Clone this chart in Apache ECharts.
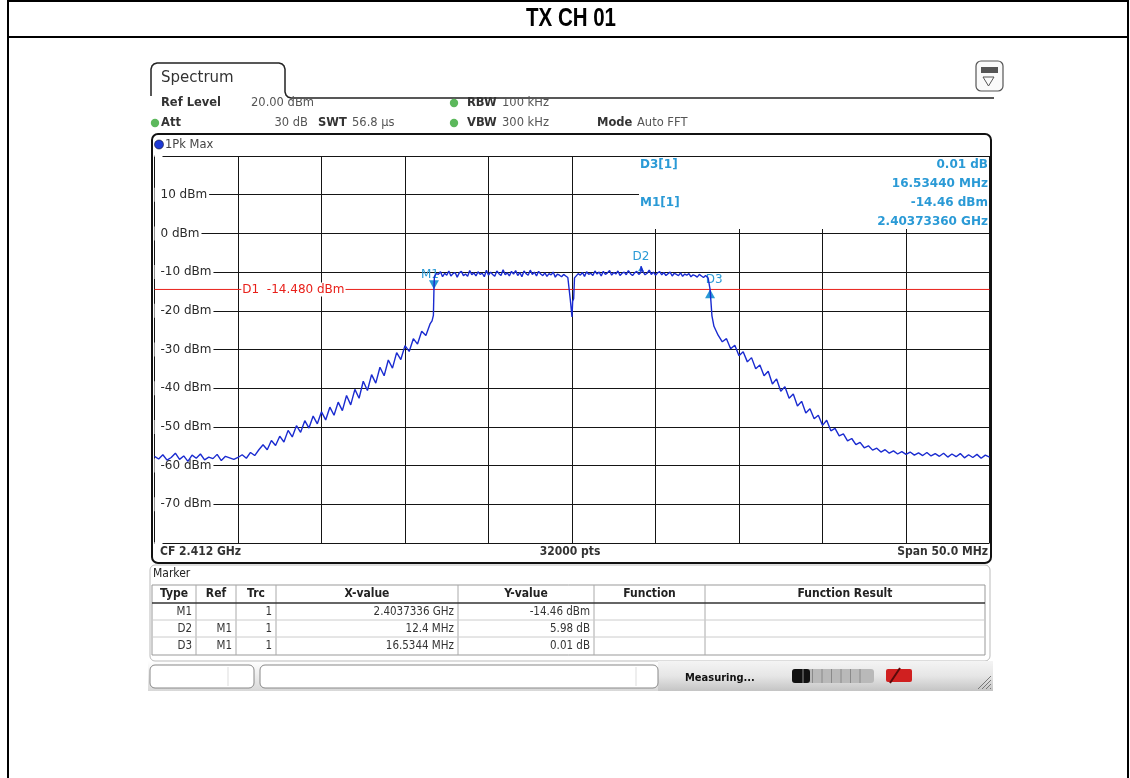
<!DOCTYPE html>
<html>
<head>
<meta charset="utf-8">
<title>TX CH 01</title>
<script src="https://cdn.jsdelivr.net/npm/echarts@6/dist/echarts.min.js"></script>
<style>
  html, body { margin: 0; padding: 0; background: #fff; }
  #main { width: 1130px; height: 778px; }
</style>
</head>
<body>
<div id="main"></div>
<script>
// span 2387 .. 2437 MHz (CF 2412 MHz, span 50 MHz), levels in dBm
var spanStartMHz = 2387, spanStopMHz = 2437;
var skirtStepMHz = 0.25, topStepMHz = 0.125;
var yTicks = { min: -80, max: 20, step: 10 };

// trace; skirts every 0.25 MHz, channel top every 0.125 MHz
var leftSkirtStart = 2387.0;
var leftSkirtDbm = [-57.6, -58.3, -57.2, -58.6, -57.9, -56.8, -58.4, -57.5, -58.9, -57.3,
  -58.1, -57.0, -58.5, -57.8, -58.2, -57.1, -58.7, -57.6, -58.0, -58.4,
  -57.9, -57.2, -58.1, -56.6, -57.4, -55.9, -54.6, -55.9, -53.5, -54.8,
  -52.4, -53.9, -50.9, -52.6, -49.7, -51.4, -48.4, -50.3, -47.2, -49.2,
  -46.1, -48.2, -44.9, -47.0, -43.6, -45.8, -41.9, -44.3, -40.3, -42.6,
  -38.2, -40.6, -36.5, -38.7, -34.6, -36.8, -32.7, -34.8, -30.8, -32.6,
  -29.0, -30.5, -27.2, -28.6, -25.3, -26.4, -23.4];
var leftEdge = [[2403.62, -22.6], [2403.70, -21.2], [2403.7336, -14.46], [2403.76, -11.1], [2403.88, -10.4]];

var flatTopAStart = 2404.0;
var flatTopADbm = [-10.6, -9.9, -11.2, -10.3, -10.8, -9.7, -11.0, -10.4, -10.1, -11.3,
  -10.2, -9.8, -10.9, -10.5, -11.1, -9.6, -10.7, -10.2, -11.0, -9.9,
  -10.6, -10.3, -11.2, -9.5, -10.8, -10.0, -10.6, -11.1, -9.7, -10.4,
  -10.9, -9.4, -10.7, -10.2, -11.0, -9.8, -10.5, -9.6, -10.9, -10.1,
  -11.2, -9.7, -10.4, -10.8, -9.5, -10.6, -10.0, -11.0, -9.8, -10.5,
  -10.9, -10.2, -11.1, -10.4, -10.7, -10.0, -11.3, -10.5, -10.8, -11.2,
  -10.6, -11.0, -11.4];
var centerDip = [[2411.85, -11.3], [2411.90, -17.2], [2411.96, -17.6], [2412.00, -21.6],
  [2412.04, -17.5], [2412.10, -16.9], [2412.15, -11.5]];

var flatTopBStart = 2412.25;
var flatTopBDbm = [-11.0, -10.4, -10.8, -10.1, -11.1, -9.9, -10.6, -10.3, -10.9, -9.7,
  -10.5, -10.0, -11.0, -9.8, -10.6, -10.2, -9.6, -10.8, -10.1, -10.5,
  -9.7, -10.9, -10.3, -10.0, -10.7, -9.6, -10.4, -10.9, -10.2, -9.8,
  -10.6, -10.1, -9.9, -10.7, -10.3, -9.5, -10.6, -10.0, -10.8, -10.2,
  -9.9, -10.7, -10.1, -10.9, -10.4, -10.0, -11.0, -10.3, -10.6, -10.9,
  -10.2, -11.1, -10.5, -10.8, -10.4, -11.2, -10.7, -10.9, -11.3, -10.6,
  -11.0, -11.4, -10.9];
var d2Peak = [[2416.1336, -8.48]];
var rightEdge = [[2420.15, -11.5], [2420.268, -14.45], [2420.30, -16.4], [2420.38, -21.3], [2420.50, -24.0]];

var rightSkirtStart = 2420.75;
var rightSkirtDbm = [-26.3, -28.0, -27.2, -29.8, -28.9, -31.6, -30.6, -33.2, -32.1, -35.0,
  -34.0, -36.8, -35.6, -38.9, -37.6, -40.8, -39.6, -42.6, -41.5, -44.6,
  -43.4, -46.4, -45.3, -47.9, -47.0, -49.6, -48.3, -51.0, -50.4, -52.3,
  -51.8, -53.6, -53.0, -54.6, -54.0, -55.4, -54.9, -56.0, -55.5, -56.5,
  -55.9, -56.8, -56.2, -57.0, -56.4, -57.1, -56.5, -57.3, -56.7, -57.4,
  -56.6, -57.5, -56.9, -57.6, -56.8, -57.8, -57.0, -57.7, -56.9, -58.0,
  -57.2, -57.9, -57.1, -58.1, -57.3, -57.8];

var markerNames = ['M1', 'D2', 'D3'];
var markerFreqMHz = [2403.7336, 2416.1336, 2420.268];
var markerDbm = [-14.46, -8.48, -14.45];
var d1LineDbm = -14.48;
var d1LabelFreqMHz = 2392.2;

var tableHeader = ['Type', 'Ref', 'Trc', 'X-value', 'Y-value', 'Function', 'Function Result'];
var tableRows = [
  ['M1', '', '1', '2.4037336 GHz', '-14.46 dBm', '', ''],
  ['D2', 'M1', '1', '12.4 MHz', '5.98 dB', '', ''],
  ['D3', 'M1', '1', '16.5344 MHz', '0.01 dB', '', '']
];

function seg(start, step, vals) {
  return vals.map(function (v, i) { return [start + i * step, v]; });
}
var trace = [].concat(seg(leftSkirtStart, skirtStepMHz, leftSkirtDbm), leftEdge,
  seg(flatTopAStart, topStepMHz, flatTopADbm), centerDip, seg(flatTopBStart, topStepMHz, flatTopBDbm),
  d2Peak, rightEdge, seg(rightSkirtStart, skirtStepMHz, rightSkirtDbm));
trace.sort(function (a, b) { return a[0] - b[0]; });
// x axis runs in MHz from the start of the span
var traceData = trace.map(function (p) { return [p[0] - spanStartMHz, p[1]]; });
var spanMHz = spanStopMHz - spanStartMHz;

var UI = "'DejaVu Sans', Verdana, sans-serif";
var NARROW = "'DejaVu Sans Condensed', 'Liberation Sans Narrow', 'DejaVu Sans', sans-serif";
var MK = '#2a9ad6';
var TXT = '#333';
var D1C = '#e8201a';

var chart = echarts.init(document.getElementById('main'), null, { renderer: 'canvas' });

// ---- frame, header, table, status bar (drawn as graphic) ----
var g = [];
function text(x, y, s, o) {
  o = o || {};
  g.push({ type: 'text', x: x, y: y, z: o.z || 20, scaleX: o.scaleX || 1, style: {
    text: s, fill: o.color || TXT, font: (o.weight || 'normal') + ' ' + (o.size || 12) + 'px ' + (o.family || UI),
    textAlign: o.align || 'left', textVerticalAlign: 'middle'
  } });
}
function line(x1, y1, x2, y2, c, w, z) {
  g.push({ type: 'line', z: z || 15, shape: { x1: x1, y1: y1, x2: x2, y2: y2 }, style: { stroke: c, lineWidth: w || 1 } });
}

// page border and title
g.push({ type: 'rect', z: 5, shape: { x: 8, y: 1, width: 1120, height: 790 }, style: { fill: 'none', stroke: '#000', lineWidth: 2 } });
line(8, 37, 1128, 37, '#000', 2);
text(571, 19, 'TX CH 01', { weight: 'bold', size: 25, scaleX: 0.82, family: "'Liberation Sans', Arial, sans-serif", align: 'center', color: '#000' });

// spectrum tab
g.push({ type: 'polyline', z: 15, shape: { points: [[151, 96], [151, 69], [152, 66], [154, 64], [157, 63], [279, 63], [282, 64], [284, 66], [285, 69],
  [285, 92], [286, 95], [288, 97], [291, 98], [994, 98]] },
  style: { fill: 'none', stroke: '#222', lineWidth: 1.5 } });
text(161, 78, 'Spectrum', { size: 15 });
// settings icon
g.push({ type: 'rect', z: 15, shape: { x: 976, y: 61, width: 27, height: 30, r: 5 }, style: { fill: '#fafafa', stroke: '#555', lineWidth: 1.2 } });
g.push({ type: 'rect', z: 16, shape: { x: 981, y: 67, width: 17, height: 6 }, style: { fill: '#555' } });
g.push({ type: 'polygon', z: 16, shape: { points: [[983, 77], [994, 77], [988.5, 86]] }, style: { fill: 'none', stroke: '#555', lineWidth: 1 } });

// header settings
function dot(x, y, c) { g.push({ type: 'circle', z: 16, shape: { cx: x, cy: y, r: 4.2 }, style: { fill: c } }); }
text(161, 103, 'Ref Level', { weight: 'bold', size: 11.5 });
text(251, 103, '20.00 dBm', { size: 11.5, color: '#555' });
dot(454, 103, '#5cb85c');
text(467, 103, 'RBW', { weight: 'bold', size: 11.5 });
text(502, 103, '100 kHz', { size: 11.5, color: '#555' });
dot(155, 123, '#5cb85c');
text(161, 123, 'Att', { weight: 'bold', size: 11.5 });
text(308, 123, '30 dB', { size: 11.5, color: '#555', align: 'right' });
text(318, 123, 'SWT', { weight: 'bold', size: 11.5 });
text(352, 123, '56.8 \u00b5s', { size: 11.5, color: '#555' });
dot(454, 123, '#5cb85c');
text(467, 123, 'VBW', { weight: 'bold', size: 11.5 });
text(502, 123, '300 kHz', { size: 11.5, color: '#555' });
text(597, 123, 'Mode', { weight: 'bold', size: 11.5 });
text(637, 123, 'Auto FFT', { size: 11.5, color: '#555' });

// diagram frame
g.push({ type: 'rect', z: 30, shape: { x: 152, y: 134, width: 839, height: 429, r: 6 }, style: { fill: 'none', stroke: '#111', lineWidth: 2 } });
g.push({ type: 'circle', z: 16, shape: { cx: 159, cy: 144.5, r: 4.5 }, style: { fill: '#1f3ad6', stroke: '#112', lineWidth: 0.6 } });
text(165, 145, '1Pk Max', { size: 11.5, color: '#444' });
// marker readout box covers the grid in the top right
g.push({ type: 'rect', z: 10, shape: { x: 639, y: 157, width: 350, height: 72 }, style: { fill: '#fff' } });
text(640, 165, 'D3[1]', { weight: 'bold', size: 12, color: MK });
text(988, 165, '0.01 dB', { weight: 'bold', size: 12, color: MK, align: 'right' });
text(988, 184, '16.53440 MHz', { weight: 'bold', size: 12, color: MK, align: 'right' });
text(640, 203, 'M1[1]', { weight: 'bold', size: 12, color: MK });
text(988, 203, '-14.46 dBm', { weight: 'bold', size: 12, color: MK, align: 'right' });
text(988, 222, '2.40373360 GHz', { weight: 'bold', size: 12, color: MK, align: 'right' });
// footer of diagram
text(160, 552, 'CF 2.412 GHz', { weight: 'bold', size: 12, family: NARROW });
text(570, 552, '32000 pts', { weight: 'bold', size: 12, family: NARROW, align: 'center' });
text(988, 552, 'Span 50.0 MHz', { weight: 'bold', size: 12, family: NARROW, align: 'right' });

// marker table
g.push({ type: 'rect', z: 12, shape: { x: 150, y: 565, width: 840, height: 96, r: 5 }, style: { fill: '#fff', stroke: '#bbb', lineWidth: 1 } });
text(153, 574, 'Marker', { size: 12, family: NARROW, color: '#222' });
var colX = [152, 196, 236, 276, 458, 594, 705, 985];
var rowY = [585, 603, 620, 637, 655];
g.push({ type: 'rect', z: 13, shape: { x: 152, y: 585, width: 833, height: 70 }, style: { fill: 'none', stroke: '#999', lineWidth: 1 } });
for (var c = 1; c < colX.length - 1; c++) line(colX[c], 585, colX[c], 655, '#aaa', 1, 13);
line(152, 603, 985, 603, '#333', 1.5, 14);
line(152, 620, 985, 620, '#ccc', 1, 13);
line(152, 637, 985, 637, '#ccc', 1, 13);
tableHeader.forEach(function (h, i) {
  text((colX[i] + colX[i + 1]) / 2, 594, h, { weight: 'bold', size: 12, family: NARROW, align: 'center', color: '#222' });
});
tableRows.forEach(function (r, j) {
  r.forEach(function (v, i) {
    if (v) text(colX[i + 1] - 4, (rowY[j + 1] + rowY[j + 2]) / 2 + 0.5, v, { size: 11.5, family: NARROW, align: 'right', color: '#333' });
  });
});

// status bar
g.push({ type: 'rect', z: 11, shape: { x: 148, y: 661, width: 845, height: 30 },
  style: { fill: new echarts.graphic.LinearGradient(0, 0, 0, 1, [{ offset: 0, color: '#ffffff' }, { offset: 1, color: '#d8d8d8' }]) } });
g.push({ type: 'rect', z: 12, shape: { x: 658, y: 661, width: 335, height: 30 },
  style: { fill: new echarts.graphic.LinearGradient(0, 0, 0, 1, [{ offset: 0, color: '#f4f4f4' }, { offset: 0.5, color: '#e6e6e6' }, { offset: 1, color: '#c4c4c4' }]) } });
g.push({ type: 'rect', z: 13, shape: { x: 150, y: 665, width: 104, height: 23, r: 5 }, style: { fill: '#fff', stroke: '#888', lineWidth: 1 } });
line(228, 667, 228, 686, '#ddd', 1, 14);
g.push({ type: 'rect', z: 13, shape: { x: 260, y: 665, width: 398, height: 23, r: 5 }, style: { fill: '#fff', stroke: '#888', lineWidth: 1 } });
line(636, 667, 636, 686, '#ddd', 1, 14);
text(685, 678, 'Measuring...', { weight: 'bold', size: 11, family: NARROW, color: '#111' });
g.push({ type: 'rect', z: 14, shape: { x: 792, y: 669, width: 82, height: 14, r: 3 }, style: { fill: '#b9b9b9' } });
g.push({ type: 'rect', z: 15, shape: { x: 792, y: 669, width: 18, height: 14, r: 3 }, style: { fill: '#111' } });
for (var s = 0; s < 7; s++) line(803 + s * 9.5, 669, 803 + s * 9.5, 683, '#8a8a8a', 1, 16);
g.push({ type: 'rect', z: 14, shape: { x: 886, y: 669, width: 26, height: 13, r: 2 }, style: { fill: '#d02020' } });
line(890, 683, 900, 668, '#5a0a0a', 2, 15);
for (var h = 0; h < 4; h++) line(978 + h * 4, 689, 991, 676 + h * 4, '#777', 1, 15);

var option = {
  animation: false,
  backgroundColor: '#fff',
  grid: { left: 154.5, top: 156, width: 835, height: 387 },
  xAxis: {
    type: 'value', min: 0, max: spanMHz, interval: 5,
    axisLine: { show: false }, axisTick: { show: false }, axisLabel: { show: false },
    splitLine: { show: true, lineStyle: { color: '#151515', width: 1 } }
  },
  yAxis: {
    type: 'value', min: yTicks.min, max: yTicks.max, interval: yTicks.step,
    axisLine: { show: true, lineStyle: { color: '#151515', width: 1 } }, axisTick: { show: false },
    splitLine: { show: true, lineStyle: { color: '#151515', width: 1 } },
    axisLabel: {
      inside: true, margin: 0, color: '#2a2a2a', fontFamily: UI, fontSize: 12,
      backgroundColor: '#fff', padding: [1, 2, 1, 6],
      formatter: function (v) { return (v === yTicks.max || v === yTicks.min) ? '' : v + ' dBm'; }
    }
  },
  graphic: g,
  series: [{
    // display line D1
    type: 'line', data: [[0, d1LineDbm], [spanMHz, d1LineDbm]], showSymbol: false, z: 3, silent: true,
    lineStyle: { color: D1C, width: 1 },
    markPoint: {
      silent: true,
      data: [{ coord: [d1LabelFreqMHz - spanStartMHz, d1LineDbm], symbol: 'rect', symbolSize: 0,
        label: { show: true, formatter: 'D1  ' + d1LineDbm.toFixed(3) + ' dBm', position: 'right', distance: 0,
          color: D1C, fontFamily: UI, fontSize: 12, backgroundColor: '#fff', padding: [1, 1, 1, 1] } }]
    }
  }, {
    type: 'line', data: traceData, showSymbol: false, sampling: null, z: 5,
    lineStyle: { color: '#1a2bd0', width: 1.4 },
    markPoint: {
      silent: true,
      data: [
        { coord: [markerFreqMHz[0] - spanStartMHz, markerDbm[0]], symbol: 'triangle', symbolRotate: 180, symbolSize: [10, 9], symbolOffset: [0, '-50%'],
          itemStyle: { color: MK }, label: { show: true, formatter: markerNames[0], position: 'top', distance: 1, offset: [-4, 2], color: MK, fontFamily: UI, fontSize: 12 } },
        { coord: [markerFreqMHz[1] - spanStartMHz, markerDbm[1]], symbol: 'triangle', symbolSize: [6, 5], symbolOffset: [0, '50%'],
          itemStyle: { color: MK }, label: { show: true, formatter: markerNames[1], position: 'top', distance: 3, color: MK, fontFamily: UI, fontSize: 12 } },
        { coord: [markerFreqMHz[2] - spanStartMHz, markerDbm[2]], symbol: 'triangle', symbolSize: [10, 9], symbolOffset: [0, '50%'],
          itemStyle: { color: MK }, label: { show: true, formatter: markerNames[2], position: 'top', distance: 2, offset: [4, -1], color: MK, fontFamily: UI, fontSize: 12 } }
      ]
    }
  }]
};
chart.setOption(option);
</script>
</body>
</html>
